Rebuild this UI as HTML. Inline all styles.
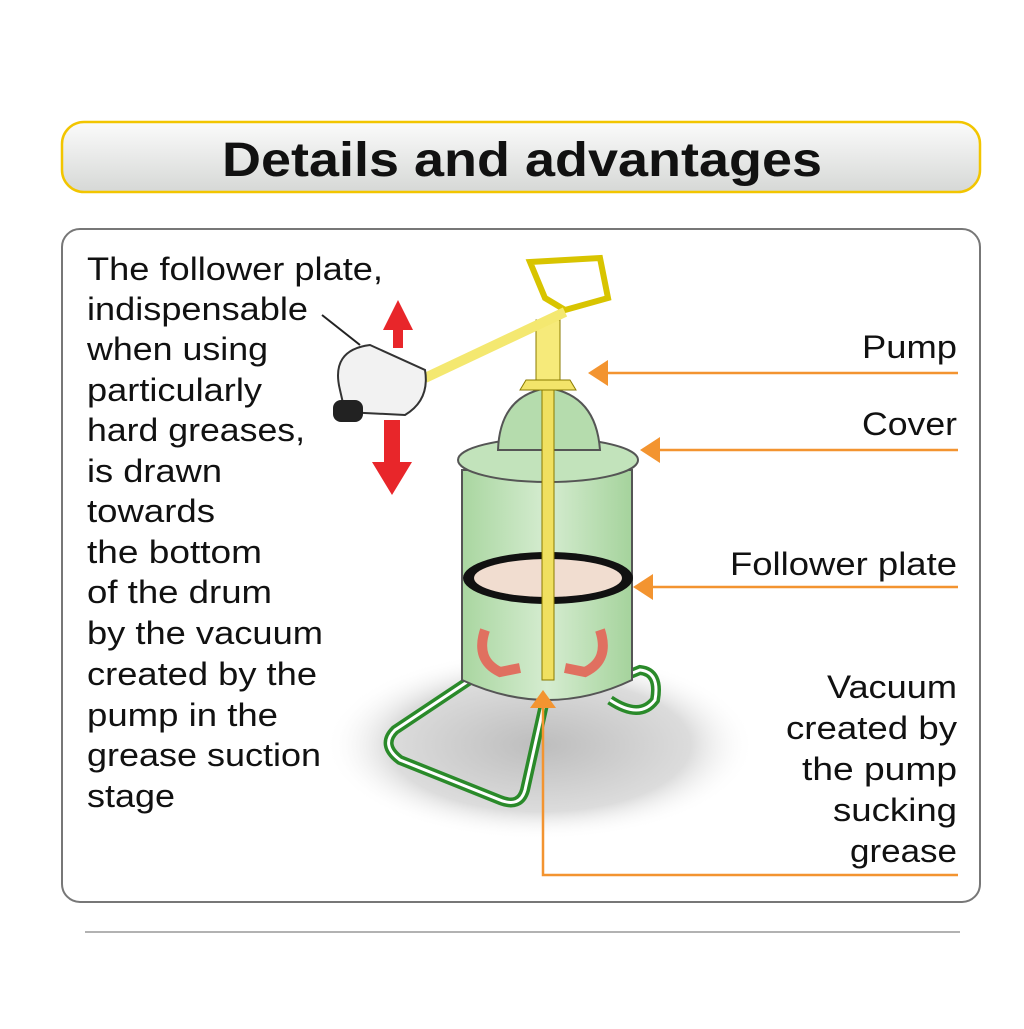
<!DOCTYPE html>
<html><head><style>
body{margin:0;width:1024px;height:1024px;background:#fff;overflow:hidden;font-family:"Liberation Sans",sans-serif}
</style></head><body>
<svg width="1024" height="1024" viewBox="0 0 1024 1024" xmlns="http://www.w3.org/2000/svg" font-family="Liberation Sans, sans-serif">
<defs>
<linearGradient id="tg" x1="0" y1="0" x2="0" y2="1"><stop offset="0" stop-color="#fbfbfb"/><stop offset="1" stop-color="#d6d8d6"/></linearGradient>
<radialGradient id="sh" cx="0.5" cy="0.5" r="0.5"><stop offset="0" stop-color="#bdbdbd"/><stop offset="0.7" stop-color="#dcdcdc"/><stop offset="1" stop-color="#fff" stop-opacity="0"/></radialGradient>
<linearGradient id="dg" x1="0" y1="0" x2="1" y2="0"><stop offset="0" stop-color="#a9d6a0"/><stop offset="0.5" stop-color="#d5ecd0"/><stop offset="1" stop-color="#a5d39c"/></linearGradient>
</defs>
<rect x="62" y="122" width="918" height="70" rx="22" fill="url(#tg)" stroke="#f2c500" stroke-width="2.5"/>
<text x="222" y="176" font-size="48" font-weight="bold" fill="#111" textLength="600" lengthAdjust="spacingAndGlyphs">Details and advantages</text>
<rect x="62" y="229" width="918" height="673" rx="18" fill="#fff" stroke="#777" stroke-width="2"/>
<line x1="85" y1="932" x2="960" y2="932" stroke="#999" stroke-width="1.5"/>
<g font-size="32" fill="#111" lengthAdjust="spacingAndGlyphs">
<text x="87" y="280" textLength="296" lengthAdjust="spacingAndGlyphs">The follower plate,</text>
<text x="87" y="320" textLength="221" lengthAdjust="spacingAndGlyphs">indispensable</text>
<text x="87" y="360" textLength="181" lengthAdjust="spacingAndGlyphs">when using</text>
<text x="87" y="401" textLength="175" lengthAdjust="spacingAndGlyphs">particularly</text>
<text x="87" y="441" textLength="218" lengthAdjust="spacingAndGlyphs">hard greases,</text>
<text x="87" y="482" textLength="135" lengthAdjust="spacingAndGlyphs">is drawn</text>
<text x="87" y="522" textLength="128" lengthAdjust="spacingAndGlyphs">towards</text>
<text x="87" y="563" textLength="175" lengthAdjust="spacingAndGlyphs">the bottom</text>
<text x="87" y="603" textLength="185" lengthAdjust="spacingAndGlyphs">of the drum</text>
<text x="87" y="644" textLength="236" lengthAdjust="spacingAndGlyphs">by the vacuum</text>
<text x="87" y="685" textLength="230" lengthAdjust="spacingAndGlyphs">created by the</text>
<text x="87" y="726" textLength="191" lengthAdjust="spacingAndGlyphs">pump in the</text>
<text x="87" y="766" textLength="234" lengthAdjust="spacingAndGlyphs">grease suction</text>
<text x="87" y="807" textLength="88" lengthAdjust="spacingAndGlyphs">stage</text>
</g>
<g font-size="32" fill="#111">
<text x="862" y="358" textLength="95" lengthAdjust="spacingAndGlyphs">Pump</text>
<text x="862" y="435" textLength="95" lengthAdjust="spacingAndGlyphs">Cover</text>
<text x="730" y="575" textLength="227" lengthAdjust="spacingAndGlyphs">Follower plate</text>
<text x="827" y="698" textLength="130" lengthAdjust="spacingAndGlyphs">Vacuum</text>
<text x="786" y="739" textLength="171" lengthAdjust="spacingAndGlyphs">created by</text>
<text x="802" y="780" textLength="155" lengthAdjust="spacingAndGlyphs">the pump</text>
<text x="833" y="821" textLength="124" lengthAdjust="spacingAndGlyphs">sucking</text>
<text x="850" y="862" textLength="107" lengthAdjust="spacingAndGlyphs">grease</text>
</g>
<!-- illustration -->
<ellipse cx="540" cy="745" rx="215" ry="95" fill="url(#sh)"/>
<path d="M470 680 L395 730 Q380 745 400 760 L500 800 Q520 808 525 790 L545 700" fill="none" stroke="#2a8a2a" stroke-width="10"/>
<path d="M470 680 L395 730 Q380 745 400 760 L500 800 Q520 808 525 790 L545 700" fill="none" stroke="#fff" stroke-width="3"/>
<path d="M615 680 L640 670 Q660 672 655 700 Q640 720 610 700" fill="none" stroke="#2a8a2a" stroke-width="10"/>
<path d="M615 680 L640 670 Q660 672 655 700 Q640 720 610 700" fill="none" stroke="#fff" stroke-width="3"/>
<path d="M462 470 L462 680 Q548 720 632 680 L632 470 Z" fill="url(#dg)" stroke="#555" stroke-width="2"/>
<ellipse cx="548" cy="460" rx="90" ry="22" fill="#c2e3bb" stroke="#555" stroke-width="2"/>
<path d="M498 450 Q500 395 548 388 Q596 395 600 450 Z" fill="#b5dcad" stroke="#555" stroke-width="2"/>
<ellipse cx="548" cy="578" rx="85" ry="26" fill="#111"/>
<ellipse cx="548" cy="578" rx="74" ry="19" fill="#f1ddd0"/>
<rect x="542" y="390" width="12" height="290" fill="#f0e060" stroke="#8a7a00" stroke-width="1"/>
<path d="M520 390 L576 390 L570 380 L526 380 Z" fill="#f3e46a" stroke="#8a7a00"/>
<rect x="536" y="320" width="24" height="60" fill="#f6ea7a" stroke="#8a7a00"/>
<path d="M530 262 L600 258 L608 298 L565 310 L545 298 Z" fill="none" stroke="#d8c400" stroke-width="6"/>
<line x1="425" y1="378" x2="565" y2="312" stroke="#f4e870" stroke-width="10"/>
<path d="M340 390 Q330 350 370 345 L425 370 Q430 400 405 415 L345 412 Z" fill="#f2f2f2" stroke="#333" stroke-width="2"/>
<rect x="333" y="400" width="30" height="22" rx="8" fill="#222"/>
<path d="M322 315 L360 345" stroke="#222" stroke-width="2"/>
<path d="M398 300 L383 330 L393 330 L393 348 L403 348 L403 330 L413 330 Z" fill="#e8262a"/>
<path d="M392 495 L372 462 L384 462 L384 420 L400 420 L400 462 L412 462 Z" fill="#e8262a"/>
<path d="M485 630 Q475 660 500 672 L520 668" fill="none" stroke="#e07060" stroke-width="10"/>
<path d="M600 630 Q610 660 585 672 L565 668" fill="none" stroke="#e07060" stroke-width="10"/>
<g stroke="#f39430" stroke-width="2.5" fill="none">
<line x1="600" y1="373" x2="958" y2="373"/>
<line x1="652" y1="450" x2="958" y2="450"/>
<line x1="645" y1="587" x2="958" y2="587"/>
<polyline points="543,703 543,875 958,875"/>
</g>
<g fill="#f39430">
<polygon points="588,373 608,360 608,386"/>
<polygon points="640,450 660,437 660,463"/>
<polygon points="633,587 653,574 653,600"/>
<polygon points="543,690 530,708 556,708"/>
</g>
</svg>
</body></html>
